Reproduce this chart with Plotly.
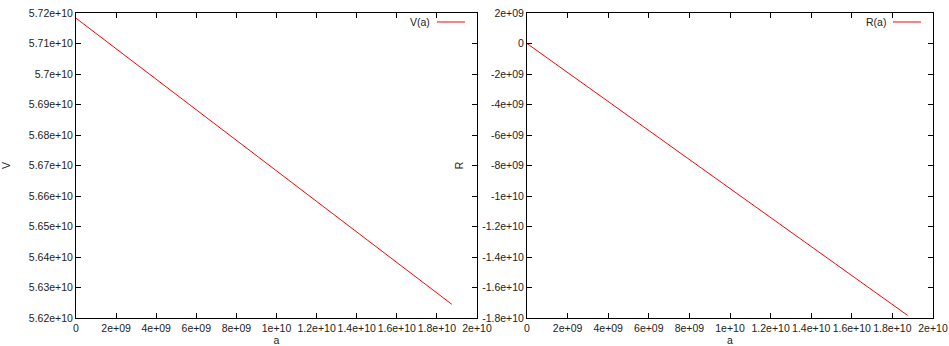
import plotly.graph_objects as go

# Data (straight lines)
a_vals = [0.0, 1.874e10]
V_vals = [5.7183e10, 5.6245e10]
R_vals = [0.0, -1.782e10]

x_tickvals = [0, 2e9, 4e9, 6e9, 8e9, 1e10, 1.2e10, 1.4e10, 1.6e10, 1.8e10, 2e10]
x_ticktext = ["0", "2e+09", "4e+09", "6e+09", "8e+09", "1e+10", "1.2e+10", "1.4e+10", "1.6e+10", "1.8e+10", "2e+10"]

v_tickvals = [5.62e10, 5.63e10, 5.64e10, 5.65e10, 5.66e10, 5.67e10, 5.68e10, 5.69e10, 5.70e10, 5.71e10, 5.72e10]
v_ticktext = ["5.62e+10", "5.63e+10", "5.64e+10", "5.65e+10", "5.66e+10", "5.67e+10", "5.68e+10", "5.69e+10", "5.7e+10", "5.71e+10", "5.72e+10"]

r_tickvals = [2e9, 0, -2e9, -4e9, -6e9, -8e9, -1e10, -1.2e10, -1.4e10, -1.6e10, -1.8e10]
r_ticktext = ["2e+09", "0", "-2e+09", "-4e+09", "-6e+09", "-8e+09", "-1e+10", "-1.2e+10", "-1.4e+10", "-1.6e+10", "-1.8e+10"]

FONT = "Liberation Sans, Arial, Helvetica, sans-serif"
W, H = 949, 346
FS = 10.5

fig = go.Figure()
fig.add_trace(go.Scatter(x=a_vals, y=V_vals, mode="lines", name="V(a)",
                         line=dict(color="#ff0000", width=1), xaxis="x", yaxis="y", showlegend=False))
fig.add_trace(go.Scatter(x=a_vals, y=R_vals, mode="lines", name="R(a)",
                         line=dict(color="#ff0000", width=1), xaxis="x2", yaxis="y2", showlegend=False))

ydom = [(H - 318) / H, (H - 13) / H]
xdom1 = [76 / W, 477 / W]
xdom2 = [527 / W, 933 / W]

common = dict(showline=True, linecolor="black", linewidth=1, mirror="allticks",
              ticks="inside", ticklen=5, tickcolor="black", showgrid=False, zeroline=False,
              automargin=False, tickangle=0,
              tickfont=dict(family=FONT, size=FS, color="#222222"))

fig.update_layout(
    width=W, height=H, margin=dict(l=0, r=0, t=0, b=0),
    paper_bgcolor="white", plot_bgcolor="white",
    font=dict(family=FONT, size=FS, color="#222222"),
    xaxis=dict(domain=xdom1, range=[0, 2e10], tickvals=x_tickvals, ticktext=x_ticktext,
               anchor="y", title=dict(text="a", standoff=8, font=dict(size=FS)), **common),
    yaxis=dict(domain=ydom, range=[5.62e10, 5.72e10], tickvals=v_tickvals, ticktext=v_ticktext,
               anchor="x", title=dict(text="V", standoff=16, font=dict(size=FS)), **common),
    xaxis2=dict(domain=xdom2, range=[0, 2e10], tickvals=x_tickvals, ticktext=x_ticktext,
                anchor="y2", title=dict(text="a", standoff=8, font=dict(size=FS)), **common),
    yaxis2=dict(domain=ydom, range=[-1.8e10, 2e9], tickvals=r_tickvals, ticktext=r_ticktext,
                anchor="x2", title=dict(text="R", standoff=16, font=dict(size=FS)), **common),
)

# gnuplot-style key: text then line sample, top-right inside each plot
for (label, xr) in [("V(a)", 477), ("R(a)", 933)]:
    fig.add_annotation(x=(xr - 45) / W, y=(H - 22) / H, xref="paper", yref="paper",
                       text=label, showarrow=False, xanchor="right", yanchor="middle",
                       font=dict(family=FONT, size=FS, color="#222222"))
    fig.add_shape(type="line", xref="paper", yref="paper",
                  x0=(xr - 40) / W, x1=(xr - 12) / W, y0=(H - 22) / H, y1=(H - 22) / H,
                  line=dict(color="#ff0000", width=1))

fig.write_html("out.html")
